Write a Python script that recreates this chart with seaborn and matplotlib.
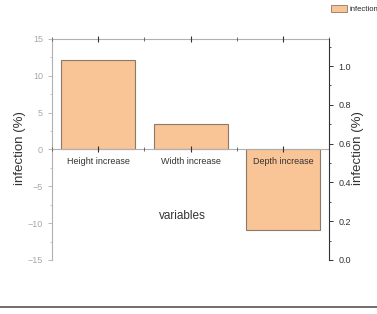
import matplotlib
matplotlib.use("Agg")
import matplotlib.pyplot as plt
from matplotlib.lines import Line2D
from matplotlib.patches import Patch
from matplotlib.ticker import MultipleLocator, FormatStrFormatter
import pandas as pd
import seaborn as sns

categories = ["Height increase", "Width increase", "Depth increase"]
infection = [12.1, 3.5, -10.9]
series_name = "infection"

sns.set_theme(style="white")
plt.rcParams["font.family"] = ["Liberation Sans", "DejaVu Sans"]

bar_fill = "#f9c496"
bar_edge = "#8a7a6a"
light = "#b0b0b0"

df = pd.DataFrame({"variable": categories, "infection": infection})

fig = plt.figure(figsize=(3.77, 3.14), dpi=100)
ax = fig.add_axes([0.138, 0.172, 0.735, 0.704])
sns.barplot(data=df, x="variable", y="infection", color=bar_fill, width=0.8,
            edgecolor=bar_edge, linewidth=0.8, saturation=1, ax=ax)
ax.set_axisbelow(False)  # tick labels drawn over the bars
ax.set_xlim(-0.5, 2.5)
ax.set_ylim(-15, 15)
ax.yaxis.set_major_locator(MultipleLocator(5))
ax.yaxis.set_minor_locator(MultipleLocator(2.5))
ax.xaxis.set_minor_locator(MultipleLocator(0.5))

# spines
ax.spines["bottom"].set_position(("data", 0))
ax.spines["bottom"].set_color(light)
ax.spines["bottom"].set_linewidth(0.8)
ax.spines["left"].set_color(light)
ax.spines["top"].set_color(light)
ax.spines["right"].set_visible(False)
for s in ("left", "top"):
    ax.spines[s].set_linewidth(0.8)

ax.tick_params(axis="y", which="major", direction="out", length=3, width=0.6,
               color=light, labelcolor="#a8a8a8", labelsize=6.5, left=True)
ax.tick_params(axis="y", which="minor", direction="out", length=1.5, width=0.5,
               color=light, left=True)
ax.tick_params(axis="x", which="major", direction="inout", length=5, width=0.8,
               color="#333333", labelsize=6.5, labelcolor="#333333", pad=3,
               bottom=True, top=True)
ax.tick_params(axis="x", which="minor", direction="inout", length=3, width=0.6,
               color="#555555", bottom=True, top=True)

ax.set_xlabel("variables", fontsize=8.5, color="#333333")
ax.xaxis.set_label_coords(0.47, 0.226)
ax.set_ylabel("infection (%)", fontsize=9.5, color="#333333")
ax.yaxis.set_label_coords(-0.094, 0.507)

# right axis
ax2 = ax.twinx()
ax2.set_ylim(0, 1.14)
ax2.yaxis.set_major_locator(MultipleLocator(0.2))
ax2.yaxis.set_minor_locator(MultipleLocator(0.1))
for s in ("left", "top", "bottom"):
    ax2.spines[s].set_visible(False)
ax2.spines["right"].set_color("#333333")
ax2.spines["right"].set_linewidth(0.8)
ax2.tick_params(axis="y", which="major", direction="out", length=3, width=0.7,
                color="#333333", labelsize=6.5, labelcolor="#333333", right=True)
ax2.tick_params(axis="y", which="minor", direction="out", length=1.5, width=0.6,
                color="#333333", right=True)
ax2.yaxis.set_major_formatter(FormatStrFormatter("%.1f"))
ax2.set_ylabel("infection (%)", fontsize=9.5, color="#333333")
ax2.yaxis.set_label_coords(1.083, 0.507)

# legend at top-right, partly off the canvas as in the original
handles = [Patch(facecolor=bar_fill, edgecolor=bar_edge, linewidth=0.6)]
fig.legend(handles, [series_name], loc="upper left", bbox_to_anchor=(0.865, 1.0),
           frameon=False, fontsize=5.5, handlelength=2.2, handleheight=1.2,
           handletextpad=0.3, borderaxespad=0.2)

# frame line near the bottom of the screenshot
fig.add_artist(Line2D([0, 1], [0.022, 0.022], color="#555555", linewidth=1.2))

fig.savefig("out.png", dpi=100)
